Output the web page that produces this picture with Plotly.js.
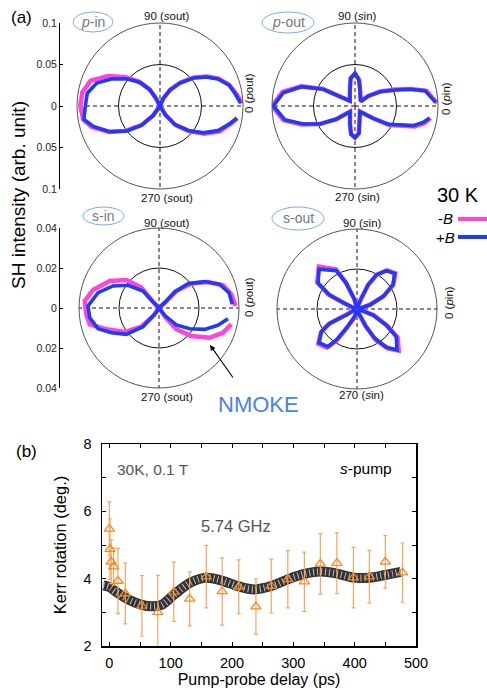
<!DOCTYPE html>
<html><head><meta charset="utf-8">
<script src="https://cdn.plot.ly/plotly-3.0.1.min.js"></script>
<style>html,body{margin:0;padding:0;background:#fff}#g{width:487px;height:690px}</style>
</head><body><div id="g"></div>
<script>
// ---------- data ----------
// p-in (radius in arb. unit, angle in degrees)
const pinBlueTheta = [2, 9, 17, 25, 32, 40, 49, 58, 67, 90, 118, 122, 130, 141, 151, 160, 170, 180, 190, 197, 207, 217, 226, 234, 270, 302, 309, 319, 328, 337, 346, 351];
const pinBlueR = [0.097, 0.092, 0.087, 0.077, 0.066, 0.053, 0.037, 0.023, 0.010, 0, 0.010, 0.023, 0.037, 0.052, 0.067, 0.081, 0.089, 0.090, 0.093, 0.084, 0.068, 0.050, 0.032, 0.014, 0, 0.013, 0.029, 0.045, 0.061, 0.076, 0.087, 0.094];
const pinMagTheta = [2, 9, 17, 25, 32, 40, 49, 58, 66, 90, 117, 122, 131, 140, 150, 160, 170, 180, 190, 197, 207, 216, 226, 234, 270, 302, 309, 319, 328, 337, 346, 351];
const pinMagR = [0.099, 0.093, 0.087, 0.078, 0.067, 0.053, 0.037, 0.023, 0.010, 0, 0.011, 0.024, 0.039, 0.054, 0.072, 0.089, 0.095, 0.096, 0.094, 0.086, 0.069, 0.051, 0.032, 0.014, 0, 0.013, 0.029, 0.046, 0.063, 0.078, 0.088, 0.094];
// p-out
const poutBlueTheta = [2.6, 12.4, 16.9, 21.8, 29.8, 36.9, 37.4, 72.6, 81.3, 90, 98.9, 107.4, 135, 148.1, 152.2, 160.1, 169.5, 180, 191.3, 199.2, 207.2, 215.3, 228.6, 253.9, 262, 270, 278.3, 285.5, 311.4, 326.1, 331.2, 341.4, 346.6, 350.6];
const poutBlueR = [0.0973, 0.0863, 0.0692, 0.0519, 0.0347, 0.0201, 0.0086, 0.0202, 0.0317, 0.0394, 0.0337, 0.0202, 0.0085, 0.0213, 0.0431, 0.0684, 0.0878, 0.0984, 0.086, 0.0659, 0.0474, 0.0271, 0.0091, 0.0217, 0.0345, 0.0382, 0.0333, 0.0196, 0.0091, 0.0266, 0.0458, 0.0742, 0.0847, 0.0908];
const poutMagTheta = [2, 12, 17, 22, 30, 37, 40, 72, 81, 90, 99, 108, 135, 148, 152, 160, 169, 180, 191, 199, 207, 215, 229, 254, 262, 270, 278, 286, 311, 326, 331, 341, 346, 351];
const poutMagR = [0.099, 0.088, 0.070, 0.053, 0.035, 0.020, 0.009, 0.020, 0.032, 0.039, 0.034, 0.020, 0.009, 0.022, 0.044, 0.069, 0.089, 0.100, 0.088, 0.068, 0.048, 0.028, 0.009, 0.022, 0.034, 0.038, 0.033, 0.020, 0.009, 0.027, 0.047, 0.076, 0.086, 0.092];
// s-in
const sinBlueTheta = [2.9, 12.4, 21.3, 30, 40, 45.6, 43.3, 90, 135, 133.3, 143.8, 154.4, 165.9, 178.4, 187.9, 198.7, 207.4, 218.9, 229.4, 235.6, 270, 307.7, 315.6, 326, 334.9, 343.6, 351.2];
const sinBlueR = [0.0367, 0.0358, 0.0326, 0.0264, 0.0189, 0.0112, 0.0039, 0, 0.0042, 0.0117, 0.0192, 0.0255, 0.0314, 0.0355, 0.035, 0.0322, 0.0268, 0.021, 0.0123, 0.0038, 0, 0.0046, 0.0121, 0.0185, 0.0252, 0.0307, 0.0349];
const sinMagTheta = [1.5, 10.7, 19.5, 27.9, 37.3, 44.4, 42, 90, 133.6, 131, 139.4, 151.3, 164.7, 174.6, 185, 193.3, 202, 215, 226.6, 234, 270, 304.6, 309.1, 319.1, 329.6, 338.9, 347.3];
const sinMagR = [0.0383, 0.0368, 0.034, 0.0277, 0.0203, 0.0121, 0.0045, 0, 0.0048, 0.0135, 0.0215, 0.0281, 0.0342, 0.0373, 0.0365, 0.0356, 0.0284, 0.021, 0.0129, 0.0045, 0, 0.0059, 0.0137, 0.0214, 0.0294, 0.0343, 0.0371];
// s-out
const soutBlueTheta = [0, 17.5, 25.4, 33.7, 43.4, 52.6, 60.4, 65.4, 67.9, 90, 104.5, 112.6, 118.3, 133.8, 146.6, 152.9, 155.3, 180, 209.4, 207.7, 212.4, 221.5, 232.4, 236.6, 241.1, 253.1, 270, 294, 297, 301.1, 307.4, 314.3, 324.9, 331.4, 339.4, 360];
const soutBlueR = [0.0005, 0.0066, 0.0144, 0.0216, 0.0259, 0.0241, 0.0196, 0.0132, 0.0058, 0.0005, 0.0047, 0.0139, 0.0218, 0.0275, 0.0233, 0.0154, 0.0068, 0.0005, 0.0061, 0.0154, 0.0211, 0.0254, 0.0238, 0.0182, 0.011, 0.004, 0.0005, 0.0033, 0.0095, 0.0171, 0.0241, 0.0286, 0.024, 0.0167, 0.0085, 0.0005];
const soutMagTheta = [0, 18, 26, 34, 43, 52, 60, 65, 68, 90, 105, 113, 118, 132, 146, 153, 156, 180, 208, 208, 213, 222, 232, 237, 241, 253, 270, 294, 297, 301, 308, 315, 325, 331, 340, 360];
const soutMagR = [0.0005, 0.007, 0.015, 0.022, 0.0262, 0.0245, 0.0198, 0.0135, 0.006, 0.0005, 0.005, 0.0145, 0.0225, 0.0285, 0.024, 0.016, 0.007, 0.0005, 0.0065, 0.016, 0.0215, 0.026, 0.0245, 0.019, 0.0115, 0.0045, 0.0005, 0.0035, 0.01, 0.018, 0.025, 0.0295, 0.0248, 0.0172, 0.009, 0.0005];

// scale ticks for the SH intensity axes
const shTopTicks = [-0.1, -0.05, 0, 0.05, 0.1];
const shTopLabels = ['0.1', '0.05', '0', '0.05', '0.1'];
const shBotTicks = [-0.04, -0.02, 0, 0.02, 0.04];
const shBotLabels = ['0.04', '0.02', '0', '0.02', '0.04'];

// (b) Kerr rotation vs delay
const delay = [0, 1, 3, 7, 14, 26, 53, 79, 105, 131, 158, 184, 211, 239, 264, 291, 318, 344, 371, 398, 424, 450, 478];
const kerr = [5.48, 4.88, 4.5, 4.36, 3.93, 3.56, 3.19, 3.0, 3.61, 3.4, 4.06, 3.62, 3.76, 3.17, 3.78, 3.98, 3.91, 4.44, 4.46, 4.03, 4.06, 4.5, 4.18];
const kerrErr = [0.8, 0.9, 0.65, 0.55, 0.97, 0.9, 0.9, 1.1, 0.88, 0.8, 0.93, 1.0, 0.8, 0.82, 0.8, 0.85, 0.88, 0.9, 0.9, 0.9, 0.78, 0.78, 0.88];
const fitDelay = [-10, 0, 10, 31, 53, 70, 85, 107, 134, 158, 182, 211, 236, 264, 291, 318, 344, 371, 398, 424, 450, 475];
const fitKerr = [3.8, 3.75, 3.62, 3.38, 3.22, 3.18, 3.22, 3.55, 3.9, 4.03, 3.95, 3.77, 3.68, 3.78, 3.98, 4.14, 4.21, 4.15, 4.03, 4.03, 4.11, 4.2];
const delayTicks = [0, 50, 100, 150, 200, 250, 300, 350, 400, 450, 500];
const delayLabels = ['0', '', '100', '', '200', '', '300', '', '400', '', '500'];
const kerrTicks = [2, 3, 4, 5, 6, 7, 8];
const kerrLabels = ['2', '', '4', '', '6', '', '8'];

// ---------- layout helpers ----------
const W = 487, H = 690;
const px = v => v / W;
const py = v => 1 - v / H;
const BLUE = '#1f3cf5', MAG = '#ff45d8';

function polarAx(cx, cy, rad, rmax) {
  return {
    domain: {x: [px(cx - rad), px(cx + rad)], y: [py(cy + rad), py(cy - rad)]},
    bgcolor: 'rgba(0,0,0,0)',
    radialaxis: {range: [0, rmax], tickvals: [rmax / 2], showticklabels: false, ticks: '',
      showline: false, gridcolor: '#111', gridwidth: 1},
    angularaxis: {tickvals: [0, 90, 180, 270], showticklabels: false, ticks: '',
      gridcolor: '#111', gridwidth: 1, griddash: '4px,3px', showline: true,
      linecolor: '#555', linewidth: 1}
  };
}

function pol(theta, r, color, width, sub) {
  return {type: 'scatterpolar', theta: theta, r: r, mode: 'lines', subplot: sub,
    line: {color: color, width: width}, hoverinfo: 'skip'};
}

const traces = [
  pol(pinMagTheta, pinMagR, MAG, 4.5, 'polar'),
  pol(pinBlueTheta, pinBlueR, BLUE, 3.6, 'polar'),
  pol(poutMagTheta, poutMagR, MAG, 4.5, 'polar2'),
  pol(poutBlueTheta, poutBlueR, BLUE, 3.6, 'polar2'),
  pol(sinMagTheta, sinMagR, MAG, 4.5, 'polar3'),
  pol(sinBlueTheta, sinBlueR, BLUE, 3.6, 'polar3'),
  pol(soutMagTheta, soutMagR, MAG, 4.5, 'polar4'),
  pol(soutBlueTheta, soutBlueR, BLUE, 3.6, 'polar4'),
  {type: 'scatter', x: [], y: [], xaxis: 'x', yaxis: 'y'},
  {type: 'scatter', x: [], y: [], xaxis: 'x', yaxis: 'y2'},
  {type: 'scatter', x: fitDelay, y: fitKerr, mode: 'lines', xaxis: 'x3', yaxis: 'y3',
    line: {color: '#333333', width: 10, shape: 'spline'}, hoverinfo: 'skip'},
  {type: 'scatter', x: fitDelay, y: fitKerr, mode: 'lines', xaxis: 'x3', yaxis: 'y3',
    line: {color: 'rgba(225,225,225,0.8)', width: 7, dash: '1px,3px', shape: 'spline'}, hoverinfo: 'skip'},
  {type: 'scatter', x: delay, y: kerr, mode: 'markers', xaxis: 'x3', yaxis: 'y3',
    error_y: {type: 'data', array: kerrErr, visible: true, color: '#f7a55e', thickness: 1.2, width: 2},
    marker: {symbol: 'triangle-up-open', size: 9, color: '#f08a28', line: {width: 1.3}}}
];

function shAxis(top, bot, rng, tv, tt) {
  return {domain: [py(bot), py(top)], range: rng, anchor: 'x', tickvals: tv, ticktext: tt,
    ticks: 'inside', ticklen: 3, tickcolor: '#000', showline: true, linecolor: '#000', linewidth: 1,
    showgrid: false, zeroline: false, tickfont: {size: 10.5, color: '#222'}, fixedrange: true};
}

function ann(text, x, y, o) {
  return Object.assign({text: text, x: px(x), y: py(y), xref: 'paper', yref: 'paper',
    showarrow: false, xanchor: 'center', yanchor: 'middle', font: {size: 11.5, color: '#111'}}, o || {});
}

const annotations = [
  ann('(a)', 21, 17, {font: {size: 17, color: '#000'}}),
  ann('(b)', 26, 452, {font: {size: 17, color: '#000'}}),
  ann('SH intensity (arb. unit)', 19, 195, {textangle: -90, font: {size: 19, color: '#000'}}),
  // p-in
  ann('90 (<i>s</i>out)', 167, 16), ann('270 (<i>s</i>out)', 167, 198),
  ann('0 (<i>p</i>out)', 249, 93, {textangle: -90}),
  // p-out
  ann('90 (<i>s</i>in)', 357, 16), ann('270 (<i>s</i>in)', 357, 197),
  ann('0 (<i>p</i>in)', 446, 99, {textangle: -90}),
  // s-in
  ann('90 (<i>s</i>out)', 167, 223), ann('270 (<i>s</i>out)', 167, 397),
  ann('0 (<i>p</i>out)', 249, 297, {textangle: -90}),
  // s-out
  ann('90 (<i>s</i>in)', 362, 223), ann('270 (<i>s</i>in)', 361, 395),
  ann('0 (<i>p</i>in)', 449, 303, {textangle: -90}),
  // panel tags
  ann('<i>p</i>-in', 93, 22, {font: {size: 14, color: '#777'}}),
  ann('<i>p</i>-out', 288, 22, {font: {size: 14, color: '#777'}}),
  ann('s-in', 103, 216, {font: {size: 14, color: '#777'}}),
  ann('s-out', 298, 218, {font: {size: 14, color: '#777'}}),
  // legend
  ann('30 K', 458, 195, {font: {size: 20, color: '#000'}}),
  ann('-<i>B</i>', 445, 219, {font: {size: 15, color: '#000'}}),
  ann('+<i>B</i>', 445, 237, {font: {size: 15, color: '#000'}}),
  ann('NMOKE', 258, 404, {font: {size: 22, color: '#4a80ee'}}),
  {text: '', x: px(210), y: py(345), xref: 'paper', yref: 'paper', showarrow: true,
    ax: 24, ay: 34, arrowhead: 2, arrowsize: 1, arrowwidth: 1.1, arrowcolor: '#000'},
  // (b) texts
  ann('30K, 0.1 T', 115, 469, {xanchor: 'left', font: {size: 15.5, color: '#555'}}),
  ann('5.74 GHz', 236, 526, {font: {size: 16.5, color: '#555'}}),
  ann('<i>s</i>-pump', 366, 468, {font: {size: 15.5, color: '#000'}})
];

function ell(x0, x1, y0, y1) {
  return {type: 'circle', xref: 'paper', yref: 'paper', x0: px(x0), x1: px(x1), y0: py(y1), y1: py(y0),
    line: {color: '#7fa9ec', width: 1}};
}
const shapes = [
  ell(73, 113, 12, 32), ell(262, 314, 12, 33), ell(83, 124, 207, 225), ell(272, 324, 207, 230),
  {type: 'line', xref: 'paper', yref: 'paper', x0: px(458), x1: px(487), y0: py(219), y1: py(219), line: {color: MAG, width: 4}},
  {type: 'line', xref: 'paper', yref: 'paper', x0: px(458), x1: px(487), y0: py(237), y1: py(237), line: {color: BLUE, width: 4}}
];

const layout = {
  width: W, height: H, margin: {l: 0, r: 0, t: 0, b: 0},
  paper_bgcolor: '#fff', plot_bgcolor: 'rgba(0,0,0,0)', showlegend: false,
  font: {family: 'Liberation Sans, Arial, sans-serif', color: '#000', size: 12},
  polar: polarAx(160, 106, 83, 0.1),
  polar2: polarAx(355, 106, 83, 0.1),
  polar3: polarAx(159, 308, 80, 0.04),
  polar4: polarAx(357, 309, 80, 0.04),
  xaxis: {domain: [px(60), px(62)], range: [0, 1], visible: false, fixedrange: true},
  yaxis: shAxis(23, 189, [-0.1, 0.1], shTopTicks, shTopLabels),
  yaxis2: shAxis(228, 388, [-0.04, 0.04], shBotTicks, shBotLabels),
  xaxis3: {domain: [px(102), px(416)], anchor: 'y3', range: [-12, 500], tickvals: delayTicks, ticktext: delayLabels,
    ticks: 'inside', ticklen: 4, tickcolor: '#000', showline: true, mirror: 'ticks', linecolor: '#000', linewidth: 1.5,
    showgrid: false, zeroline: false, tickfont: {size: 14.5}, ticklabelstandoff: 3,
    title: {text: 'Pump-probe delay (ps)', font: {size: 16}, standoff: 4}},
  yaxis3: {domain: [py(646), py(444)], anchor: 'x3', range: [2, 8], tickvals: kerrTicks, ticktext: kerrLabels,
    ticks: 'inside', ticklen: 4, tickcolor: '#000', showline: true, mirror: 'ticks', linecolor: '#000', linewidth: 1.5,
    showgrid: false, zeroline: false, tickfont: {size: 14.5}, ticklabelstandoff: 6,
    title: {text: 'Kerr rotation (deg.)', font: {size: 16.5}, standoff: 12}},
  annotations: annotations,
  shapes: shapes
};

Plotly.newPlot('g', traces, layout, {displayModeBar: false, staticPlot: true});
</script></body></html>
